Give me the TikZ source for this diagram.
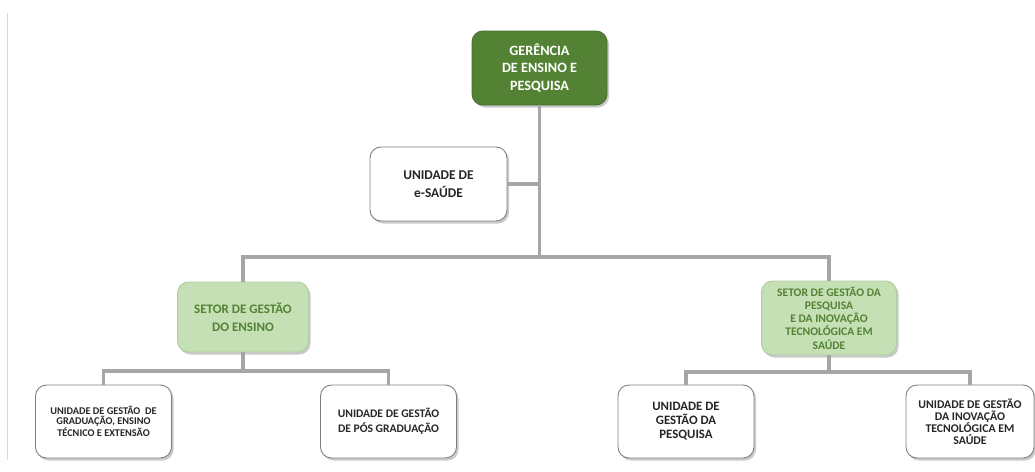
\documentclass[tikz,border=0pt]{standalone}
\usepackage{fontspec}
\setmainfont{Carlito}[BoldFont={Carlito Bold}]
\usetikzlibrary{shadows}
\definecolor{darkgreen}{HTML}{548235}
\definecolor{lightgreen}{HTML}{C5E0B4}
\definecolor{linkgray}{HTML}{A6A6A6}
\definecolor{boxline}{HTML}{7F7F7F}
\definecolor{textgray}{HTML}{262626}
\begin{document}
\begin{tikzpicture}[x=1pt,y=-1pt,
  box/.style={rectangle, rounded corners=11pt, align=center,
    inner sep=2pt, line width=0.9pt,
    drop shadow={shadow xshift=2pt, shadow yshift=-2.5pt, opacity=0.35, fill=black!60}},
  headbox/.style={box, fill=darkgreen, draw=darkgreen!85!black, text=white},
  sectbox/.style={box, fill=lightgreen, draw=lightgreen!90!black, text=darkgreen},
  unitbox/.style={box, fill=white, draw=boxline, text=textgray},
  conn/.style={draw=linkgray, line width=3.2pt}]
\useasboundingbox (0,0) rectangle (1035,471);
% thin rule along the left margin
\draw[black!15, line width=0.8pt] (7,13) -- (7,460);

\node[headbox, minimum width=135pt, minimum height=74pt,
  font=\fontsize{14.2}{17.5}\selectfont\bfseries] (ger) at (539.5,68)
  {GERÊNCIA\\DE ENSINO E\\PESQUISA};
\node[unitbox, minimum width=137pt, minimum height=74pt,
  font=\fontsize{13.4}{18}\selectfont\bfseries] (esaude) at (438.5,184)
  {UNIDADE DE\\e-SAÚDE};
\node[sectbox, minimum width=131pt, minimum height=70pt,
  font=\fontsize{13}{19.5}\selectfont\bfseries] (setE) at (243,317)
  {\raisebox{-5pt}{\shortstack{SETOR DE GESTÃO\\[6pt]DO ENSINO}}};
\node[sectbox, minimum width=135pt, minimum height=74pt,
  font=\fontsize{11.6}{13.2}\selectfont\bfseries] (setP) at (829,318)
  {SETOR DE GESTÃO DA\\PESQUISA\\E DA INOVAÇÃO\\TECNOLÓGICA EM\\SAÚDE};

\node[unitbox, minimum width=136pt, minimum height=73pt,
  font=\fontsize{10.3}{10}\selectfont\bfseries] (ugrad) at (103.5,421.5)
  {UNIDADE DE GESTÃO~ DE\\GRADUAÇÃO, ENSINO\\TÉCNICO E EXTENSÃO};
\node[unitbox, minimum width=136pt, minimum height=73pt,
  font=\fontsize{11.6}{15}\selectfont\bfseries] (upos) at (388.5,421.5)
  {UNIDADE DE GESTÃO\\DE PÓS GRADUAÇÃO};
\node[unitbox, minimum width=136pt, minimum height=73pt,
  font=\fontsize{12.8}{14}\selectfont\bfseries] (upesq) at (686,421.5)
  {UNIDADE DE\\GESTÃO DA\\PESQUISA};
\node[unitbox, minimum width=128pt, minimum height=73pt,
  font=\fontsize{11.8}{12}\selectfont\bfseries] (uinov) at (970,421.5)
  {UNIDADE DE GESTÃO\\DA INOVAÇÃO\\TECNOLÓGICA EM\\SAÚDE};

% trunk and branches
\coordinate (hub) at (539.5,257);
\coordinate (jE) at (243,371);
\coordinate (jP) at (829,372);
\begin{scope}[on background layer/.try]
\path[conn] (ger.south) -- (hub);
\path[conn] (esaude.east) -- (esaude.east -| ger.south);
\path[conn] (setE.north) |- (hub) -| (setP.north);
\path[conn] (setE.south) -- (jE);
\path[conn] (ugrad.north) |- (jE) -| (upos.north);
\path[conn] (setP.south) -- (jP);
\path[conn] (upesq.north) |- (jP) -| (uinov.north);
\end{scope}
\end{tikzpicture}
\end{document}
